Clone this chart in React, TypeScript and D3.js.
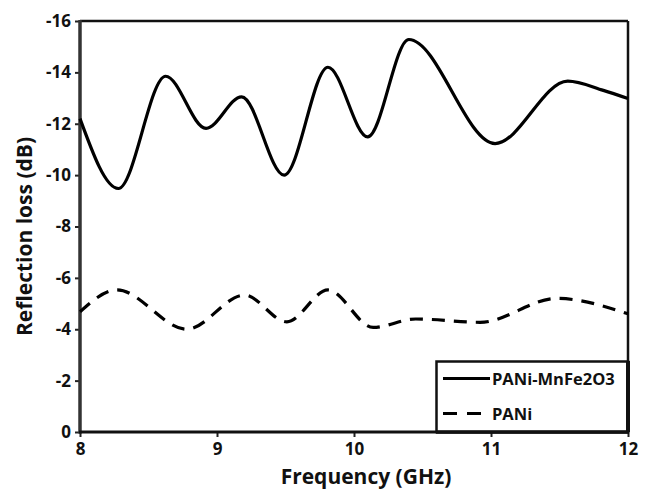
import React, { useEffect, useRef } from 'react';
import * as d3 from 'd3';

// PANi-MnFe2O3 (solid line)
const freqComposite = [8.0, 8.28, 8.625, 8.92, 9.18, 9.49, 9.81, 10.1, 10.4, 11.03, 11.56, 11.82, 12.0];
const lossComposite = [-12.2, -9.48, -13.85, -11.82, -13.05, -10.0, -14.2, -11.49, -15.28, -11.23, -13.66, -13.3, -12.98];

// PANi (dashed line)
const freqPani = [8.0, 8.27, 8.78, 9.2, 9.51, 9.81, 10.14, 10.45, 10.92, 11.48, 12.0];
const lossPani = [-4.68, -5.53, -4.0, -5.33, -4.29, -5.53, -4.07, -4.4, -4.27, -5.2, -4.6];

const xTicks = [8, 9, 10, 11, 12];
const yTicks = [0, -2, -4, -6, -8, -10, -12, -14, -16];

const seriesNames = ['PANi-MnFe2O3', 'PANi'];

const W = 652;
const H = 493;
const margin = { left: 80, right: 24, top: 21, bottom: 61 };
const FONT = "'Open Sans', sans-serif";

const App = () => {
  const ref = useRef<SVGSVGElement>(null);

  useEffect(() => {
    const svg = d3.select(ref.current);
    svg.selectAll('*').remove();

    const x = d3.scaleLinear().domain([8, 12]).range([margin.left, W - margin.right]);
    const y = d3.scaleLinear().domain([0, -16]).range([H - margin.bottom, margin.top]);

    const x0 = x(8), x1 = x(12), y0 = y(0), y1 = y(-16);

    // axes with small outward ticks, plain hyphen for minus
    const fmt = (d: d3.NumberValue) => String(d);
    const gx = svg.append('g')
      .attr('transform', `translate(0,${y0})`)
      .call(d3.axisBottom(x).tickValues(xTicks).tickSize(5).tickPadding(6).tickFormat(fmt));
    const gy = svg.append('g')
      .attr('transform', `translate(${x0},0)`)
      .call(d3.axisLeft(y).tickValues(yTicks).tickSize(5).tickPadding(4).tickFormat(fmt));

    [gx, gy].forEach(g => {
      g.select('.domain').remove();
      g.selectAll('line').attr('stroke', '#222').attr('stroke-width', 2);
      g.selectAll('text')
        .attr('fill', '#111')
        .style('font-family', FONT)
        .style('font-size', '17px')
        .style('font-weight', 'bold');
    });

    // frame
    svg.append('line').attr('x1', x0).attr('x2', x1).attr('y1', y1).attr('y2', y1)
      .attr('stroke', '#111').attr('stroke-width', 2.5);
    svg.append('line').attr('x1', x1).attr('x2', x1).attr('y1', y1).attr('y2', y0)
      .attr('stroke', '#111').attr('stroke-width', 2.5);
    svg.append('line').attr('x1', x0).attr('x2', x0).attr('y1', y1 - 1).attr('y2', y0 + 1.5)
      .attr('stroke', '#333').attr('stroke-width', 3.5);
    svg.append('line').attr('x1', x0 - 1).attr('x2', x1 + 1).attr('y1', y0).attr('y2', y0)
      .attr('stroke', '#111').attr('stroke-width', 3);

    const line = d3.line<[number, number]>()
      .x(d => x(d[0]))
      .y(d => y(d[1]))
      .curve(d3.curveMonotoneX);

    svg.append('path')
      .datum(d3.zip(freqComposite, lossComposite) as [number, number][])
      .attr('fill', 'none')
      .attr('stroke', '#000')
      .attr('stroke-width', 3.2)
      .attr('d', line);

    svg.append('path')
      .datum(d3.zip(freqPani, lossPani) as [number, number][])
      .attr('fill', 'none')
      .attr('stroke', '#000')
      .attr('stroke-width', 3.2)
      .attr('stroke-dasharray', '13,9')
      .attr('d', line);

    // axis titles
    svg.append('text')
      .attr('x', (x0 + x1) / 2 + 12)
      .attr('y', 484)
      .attr('text-anchor', 'middle')
      .text('Frequency (GHz)')
      .attr('fill', '#111')
      .style('font-family', FONT)
      .style('font-size', '21px')
      .style('font-weight', 'bold');

    svg.append('text')
      .attr('transform', `translate(32,${(y0 + y1) / 2 + 10}) rotate(-90)`)
      .attr('text-anchor', 'middle')
      .text('Reflection loss (dB)')
      .attr('fill', '#111')
      .style('font-family', FONT)
      .style('font-size', '21px')
      .style('font-weight', 'bold');

    // legend
    const lg = svg.append('g');
    lg.append('rect')
      .attr('x', 436.5).attr('y', 361.5)
      .attr('width', x1 - 436.5).attr('height', y0 - 361.5)
      .attr('fill', '#fff').attr('stroke', '#111').attr('stroke-width', 2.5);
    seriesNames.forEach((name, i) => {
      const ly = 378.5 + i * 35;
      lg.append('line')
        .attr('x1', 443).attr('x2', 490).attr('y1', ly).attr('y2', ly)
        .attr('stroke', '#000').attr('stroke-width', 3)
        .attr('stroke-dasharray', i === 1 ? '14,10' : null);
      lg.append('text')
        .attr('x', 492).attr('y', ly + 6)
        .text(name)
        .attr('fill', '#111')
        .style('font-family', FONT)
        .style('font-size', '16.5px')
        .style('font-weight', 'bold');
    });
    // redraw right/bottom axis edges over legend box
    lg.append('line').attr('x1', x1).attr('x2', x1).attr('y1', 361).attr('y2', y0)
      .attr('stroke', '#111').attr('stroke-width', 4);
    lg.append('line').attr('x1', 436).attr('x2', x1 + 1).attr('y1', y0).attr('y2', y0)
      .attr('stroke', '#111').attr('stroke-width', 3.5);
  }, []);

  return (
    <svg
      ref={ref}
      width={W}
      height={H}
      style={{ position: 'absolute', left: 0, top: 0, background: '#fff' }}
    />
  );
};

export default App;
